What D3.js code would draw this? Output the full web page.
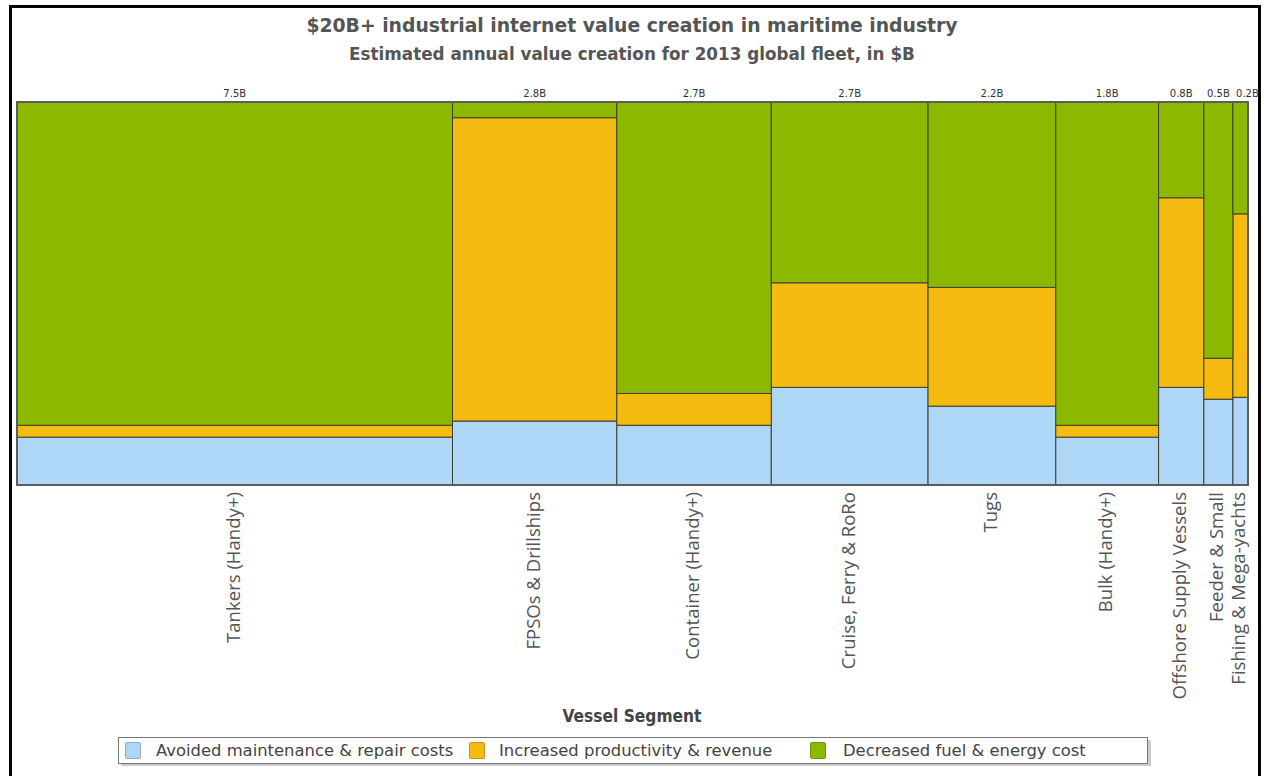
<!DOCTYPE html>
<html>
<head>
<meta charset="utf-8">
<script src="https://cdn.jsdelivr.net/npm/d3@7/dist/d3.min.js"></script>
<style>
  html, body { margin: 0; padding: 0; background: #ffffff; }
  svg { display: block; }
</style>
</head>
<body>
<svg id="chart" width="1264" height="776"></svg>
<script>
// ---- Data ----
const titleText = "$20B+ industrial internet value creation in maritime industry";
const subtitleText = "Estimated annual value creation for 2013 global fleet, in $B";
const axisTitle = "Vessel Segment";
const segments = ["Tankers (Handy+)", "FPSOs & Drillships", "Container (Handy+)", "Cruise, Ferry & RoRo", "Tugs", "Bulk (Handy+)", "Offshore Supply Vessels", "Feeder & Small", "Fishing & Mega-yachts"];
const totals = [7.5, 2.83, 2.66, 2.7, 2.2, 1.77, 0.78, 0.5, 0.26];
const totalLabels = ["7.5B", "2.8B", "2.7B", "2.7B", "2.2B", "1.8B", "0.8B", "0.5B", "0.2B"];
const seriesNames = ["Avoided maintenance & repair costs", "Increased productivity & revenue", "Decreased fuel & energy cost"];
const maintenanceShare = [12.5, 16.7, 15.6, 25.5, 20.6, 12.5, 25.5, 22.4, 22.9];
const productivityShare = [3.1, 79.2, 8.3, 27.3, 31.0, 3.1, 49.5, 10.7, 47.9];
const fuelShare = [84.4, 4.1, 76.1, 47.2, 48.4, 84.4, 25.0, 66.9, 29.2];
const seriesColors = ["#aed6f6", "#f5bb10", "#8cb900"];

// ---- Layout ----
const svg = d3.select("#chart");
const plot = { left: 17, right: 1248, top: 102, bottom: 485 };

function fitWidth(sel, target) {
  const w = sel.node().getComputedTextLength();
  const fs = parseFloat(sel.attr("font-size"));
  sel.attr("font-size", (fs * target / w).toFixed(2));
}

const title = svg.append("text").attr("x", 632).attr("y", 32)
  .attr("text-anchor", "middle").attr("font-family", "DejaVu Sans").attr("font-weight", "bold")
  .attr("font-size", 17).attr("fill", "#555").text(titleText);
fitWidth(title, 652);
const sub = svg.append("text").attr("x", 632).attr("y", 60)
  .attr("text-anchor", "middle").attr("font-family", "DejaVu Sans").attr("font-weight", "bold")
  .attr("font-size", 14).attr("fill", "#555").text(subtitleText);
fitWidth(sub, 566);

// scales
const sum = d3.sum(totals);
const x = d3.scaleLinear().domain([0, sum]).range([plot.left, plot.right]);
const y = d3.scaleLinear().domain([0, 100]).range([plot.bottom, plot.top]);

const cum = [0];
totals.forEach((t, i) => cum.push(cum[i] + t));
const rows = segments.map((s, i) => ({
  name: s, x0: cum[i], x1: cum[i + 1], label: totalLabels[i],
  maintenance: maintenanceShare[i], productivity: productivityShare[i], fuel: fuelShare[i]
}));
const keys = ["maintenance", "productivity", "fuel"];
const stacked = d3.stack().keys(keys).offset(d3.stackOffsetExpand)(rows);

const g = svg.append("g");
stacked.forEach((layer, li) => {
  g.selectAll(null).data(layer).join("rect")
    .attr("x", d => x(d.data.x0))
    .attr("width", d => x(d.data.x1) - x(d.data.x0))
    .attr("y", d => y(d[1] * 100))
    .attr("height", d => y(d[0] * 100) - y(d[1] * 100))
    .attr("fill", seriesColors[li])
    .attr("stroke", "#3b3f33").attr("stroke-width", 1);
});
// plot outline
svg.append("rect").attr("x", plot.left).attr("y", plot.top)
  .attr("width", plot.right - plot.left).attr("height", plot.bottom - plot.top)
  .attr("fill", "none").attr("stroke", "#5c5c5c").attr("stroke-width", 2);

// totals on top
svg.selectAll(".tot").data(rows).join("text")
  .attr("x", (d, i) => (x(d.x0) + x(d.x1)) / 2 + (i === rows.length - 1 ? 7 : 0))
  .attr("y", 97).attr("text-anchor", "middle")
  .attr("font-family", "DejaVu Sans").attr("font-size", 10).attr("fill", "#333")
  .text(d => d.label);

// outer frame (drawn over the clipped edge of the last label)
svg.append("path")
  .attr("d", "M10.5,790 V6.5 H1259.5 V790")
  .attr("fill", "none").attr("stroke", "#000").attr("stroke-width", 3);
svg.append("rect").attr("x", 1261).attr("y", 0).attr("width", 3).attr("height", 776).attr("fill", "#fff");

// category axis labels (rotated)
const cat = svg.selectAll(".cat").data(rows).join("text")
  .attr("transform", d => `translate(${(x(d.x0) + x(d.x1)) / 2 + 5},${492}) rotate(-90)`)
  .attr("text-anchor", "end")
  .attr("font-family", "Open Sans").attr("font-size", 14).attr("fill", "#555")
  .text(d => d.name);
{
  const w = cat.filter((d, i) => i === 0).node().getComputedTextLength();
  cat.attr("font-size", (14 * 151 / w).toFixed(2));
}

const at = svg.append("text").attr("x", 632).attr("y", 722)
  .attr("text-anchor", "middle").attr("font-family", "DejaVu Sans Condensed").attr("font-weight", "bold")
  .attr("font-size", 15).attr("fill", "#444").text(axisTitle);
fitWidth(at, 139);

// legend
const lg = svg.append("g");
lg.append("rect").attr("x", 121).attr("y", 740).attr("width", 1030).attr("height", 26)
  .attr("fill", "#aaa").attr("opacity", 0.6);
lg.append("rect").attr("x", 118.5).attr("y", 737.5).attr("width", 1029).attr("height", 26)
  .attr("fill", "#fff").attr("stroke", "#777").attr("stroke-width", 1);
const itemX = [125, 469, 810];
const textX = [156, 499, 843];
seriesNames.forEach((n, i) => {
  lg.append("rect").attr("x", itemX[i] + 0.5).attr("y", 742.5).attr("width", 15).attr("height", 16)
    .attr("rx", 1.5).attr("fill", seriesColors[i]).attr("stroke", d3.color(seriesColors[i]).darker(0.6));
  lg.append("text").attr("x", textX[i]).attr("y", 756)
    .attr("font-family", "DejaVu Sans").attr("font-size", 16.4).attr("fill", "#444").text(n);
});
</script>
</body>
</html>
